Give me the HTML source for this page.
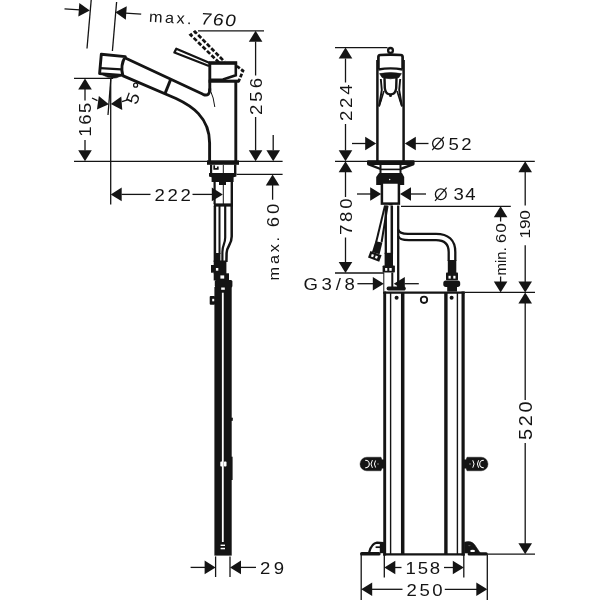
<!DOCTYPE html>
<html>
<head>
<meta charset="utf-8">
<title>Dimension drawing</title>
<style>
html,body{margin:0;padding:0;background:#ffffff;}
body{width:600px;height:600px;overflow:hidden;}
svg{display:block;transform:translateZ(0);will-change:transform;}
svg text{font-family:"Liberation Sans",sans-serif;fill:#141414;}
</style>
</head>
<body>
<svg width="600" height="600" viewBox="0 0 600 600">
<rect x="0" y="0" width="600" height="600" fill="#ffffff"/>
<line x1="91.2" y1="0" x2="87" y2="48.5" stroke="#141414" stroke-width="1.3" />
<line x1="116.6" y1="2" x2="112.4" y2="51" stroke="#141414" stroke-width="1.3" />
<line x1="64.5" y1="8.9" x2="80" y2="9.9" stroke="#141414" stroke-width="1.3" />
<polygon points="89.8,10.5 78.8,3.7 78.8,17.3" fill="#141414" transform="rotate(4 89.8 10.5)"/>
<polygon points="115.3,12.3 126.3,5.5 126.3,19.1" fill="#141414" transform="rotate(4 115.3 12.3)"/>
<line x1="125.5" y1="13.1" x2="141.2" y2="14.1" stroke="#141414" stroke-width="1.3" />
<text transform="translate(148.8 21.7) rotate(3.5) scale(1.06 1)" x="0" y="0" font-size="15.4" textLength="40.09" lengthAdjust="spacing" text-anchor="start">max.</text>
<text transform="translate(199.8 24.2) rotate(3.5) skewX(-8) scale(1.17 1)" x="0" y="0" font-size="16.6" textLength="30.09" lengthAdjust="spacing" text-anchor="start">760</text>
<line x1="74" y1="78.4" x2="113" y2="78.4" stroke="#141414" stroke-width="1.3" />
<line x1="74" y1="161.3" x2="282.6" y2="161.3" stroke="#141414" stroke-width="1.3" />
<line x1="236.5" y1="174.4" x2="282.6" y2="174.4" stroke="#141414" stroke-width="1.3" />
<line x1="110.7" y1="78.7" x2="110.7" y2="204.4" stroke="#141414" stroke-width="1.3" />
<line x1="110.8" y1="79" x2="108" y2="115" stroke="#141414" stroke-width="1.3" />
<polygon points="85,78.4 78.2,89.4 91.8,89.4" fill="#141414"/>
<line x1="85" y1="89" x2="85" y2="100.5" stroke="#141414" stroke-width="1.3" />
<text transform="translate(91.2 136.8) rotate(-90) scale(1.12 1)" x="0" y="0" font-size="16.6" textLength="30.54" lengthAdjust="spacing" text-anchor="start">165</text>
<line x1="85" y1="140" x2="85" y2="150.5" stroke="#141414" stroke-width="1.3" />
<polygon points="85,161.3 78.2,150.3 91.8,150.3" fill="#141414"/>
<polygon points="108.8,104.2 97.8,97.4 97.8,111.0" fill="#141414" transform="rotate(8 108.8 104.2)"/>
<line x1="92" y1="98" x2="97.5" y2="100.6" stroke="#141414" stroke-width="1.3" />
<polygon points="110.8,104.0 121.8,97.2 121.8,110.8" fill="#141414" transform="rotate(-4 110.8 104.0)"/>
<line x1="122" y1="101.6" x2="127.4" y2="99.8" stroke="#141414" stroke-width="1.3" />
<text transform="translate(136.4 105.4) rotate(-69) scale(1.12 1)" x="0" y="0" font-size="17.4" text-anchor="start">5</text>
<circle cx="135.6" cy="85.2" r="2.0" fill="none" stroke="#141414" stroke-width="1.25"/>
<line x1="198" y1="30.8" x2="264" y2="30.8" stroke="#141414" stroke-width="1.3" />
<polygon points="255.6,30.8 248.8,41.8 262.4,41.8" fill="#141414"/>
<line x1="255.6" y1="41.5" x2="255.6" y2="75.5" stroke="#141414" stroke-width="1.3" />
<text transform="translate(262 115) rotate(-90) scale(1.12 1)" x="0" y="0" font-size="16.6" textLength="33.04" lengthAdjust="spacing" text-anchor="start">256</text>
<line x1="255.6" y1="117" x2="255.6" y2="150.5" stroke="#141414" stroke-width="1.3" />
<polygon points="255.6,161.3 248.8,150.3 262.4,150.3" fill="#141414"/>
<line x1="273.2" y1="135" x2="273.2" y2="150.5" stroke="#141414" stroke-width="1.3" />
<polygon points="273.2,161.3 266.4,150.3 280.0,150.3" fill="#141414"/>
<polygon points="272.6,174.4 265.8,185.4 279.4,185.4" fill="#141414"/>
<line x1="272.6" y1="185" x2="272.6" y2="199.7" stroke="#141414" stroke-width="1.3" />
<text transform="translate(278.8 280.4) rotate(-90) scale(1.06 1)" x="0" y="0" font-size="15.4" textLength="41.04" lengthAdjust="spacing" text-anchor="start">max.</text>
<text transform="translate(278.6 227.2) rotate(-90) scale(1.12 1)" x="0" y="0" font-size="16.6" textLength="20.98" lengthAdjust="spacing" text-anchor="start">60</text>
<polygon points="110.7,194.4 121.7,187.6 121.7,201.2" fill="#141414"/>
<line x1="121.5" y1="194.4" x2="150.5" y2="194.4" stroke="#141414" stroke-width="1.3" />
<text transform="translate(154.4 200.5) rotate(0) scale(1.12 1)" x="0" y="0" font-size="16.6" textLength="32.59" lengthAdjust="spacing" text-anchor="start">222</text>
<line x1="192.5" y1="194.4" x2="212" y2="194.4" stroke="#141414" stroke-width="1.3" />
<polygon points="222.8,194.4 211.8,187.6 211.8,201.2" fill="#141414"/>
<line x1="215.6" y1="556.4" x2="215.6" y2="577" stroke="#141414" stroke-width="1.3" />
<line x1="230" y1="556.4" x2="230" y2="577" stroke="#141414" stroke-width="1.3" />
<line x1="190.6" y1="567.4" x2="205" y2="567.4" stroke="#141414" stroke-width="1.3" />
<polygon points="215.6,567.4 204.6,560.6 204.6,574.2" fill="#141414"/>
<polygon points="230,567.4 241.0,560.6 241.0,574.2" fill="#141414"/>
<line x1="240.5" y1="567.4" x2="256" y2="567.4" stroke="#141414" stroke-width="1.3" />
<text transform="translate(260 573.7) rotate(0) scale(1.12 1)" x="0" y="0" font-size="16.6" textLength="21.43" lengthAdjust="spacing" text-anchor="start">29</text>
<path d="M101.3,54.3 L125.3,56.6 Q120.0,65.5 122.8,75.4 L99.6,73.6 Z" stroke="#141414" stroke-width="2.9" fill="none" stroke-linejoin="round"/>
<line x1="100.2" y1="68.2" x2="121.3" y2="69.4" stroke="#141414" stroke-width="2.3" />
<path d="M102.5,74.8 L120.6,76.2 Q112,81.0 102.5,74.8 Z" stroke="#141414" stroke-width="0.5" fill="#141414" />
<path d="M125.3,58.0 L203.0,94.3 Q209.8,97.2 209.8,88.5" stroke="#141414" stroke-width="2.9" fill="none" />
<path d="M122.6,75.6 L176,98.5 C191,105.5 209.6,117 209.6,143 L209.6,161" stroke="#141414" stroke-width="2.9" fill="none" />
<line x1="170.6" y1="79.6" x2="165.0" y2="93.6" stroke="#141414" stroke-width="2.9" />
<path d="M210.4,63.3 L176.3,48.8 L174.4,52.5 L209,66.0" stroke="#141414" stroke-width="2.3" fill="none" stroke-linejoin="round"/>
<path d="M219.0,62.5 L190.6,34.9 L195.0,31.7 L224.4,61.6" stroke="#141414" stroke-width="2.7" fill="none" stroke-dasharray="4.3 1.9"/>
<path d="M208.9,63.0 L237.2,63.0" stroke="#141414" stroke-width="3.6" fill="none" />
<path d="M235.8,62.5 L235.8,75.3 L223,79.5 L210.4,79.8" stroke="#141414" stroke-width="2.6" fill="none" />
<line x1="209.8" y1="62.5" x2="209.8" y2="91" stroke="#141414" stroke-width="2.9" />
<path d="M208.6,81.2 L239,81.2" stroke="#141414" stroke-width="3.1" fill="none" />
<path d="M236.8,66 L243,70.8 L238.4,82" stroke="#141414" stroke-width="2.7" fill="none" stroke-dasharray="3.8 1.7"/>
<line x1="235.8" y1="81" x2="235.8" y2="161" stroke="#141414" stroke-width="2.9" />
<path d="M210.6,91 Q213.6,97 214.8,107" stroke="#141414" stroke-width="1.0" fill="none" />
<rect x="207" y="160.4" width="32" height="4.4" rx="0" fill="#141414" stroke="none" stroke-width="0"/>
<rect x="210" y="164.5" width="2.2" height="9.0" rx="0" fill="#141414" stroke="none" stroke-width="0"/>
<rect x="234" y="164.5" width="2.4" height="9.0" rx="0" fill="#141414" stroke="none" stroke-width="0"/>
<line x1="223.3" y1="165" x2="223.3" y2="204" stroke="#141414" stroke-width="1.0" />
<path d="M214.2,165.2 L214.2,168.8 L217.8,168.8 L217.8,166.4" stroke="#141414" stroke-width="1.7" fill="none" />
<polygon points="209,173 236.4,173 236.4,176.6 233.6,177.2 233.6,182 226,182 226,185 219,185 219,182 211.6,182 211.6,177.2 209,176.6" fill="#141414" stroke="none" stroke-width="0"/>
<rect x="213.5" y="181" width="2.2" height="23" rx="0" fill="#141414" stroke="none" stroke-width="0"/>
<rect x="230.6" y="181" width="2.4" height="23" rx="0" fill="#141414" stroke="none" stroke-width="0"/>
<rect x="213.8" y="203.4" width="19.2" height="3.2" rx="0" fill="#141414" stroke="none" stroke-width="0"/>
<line x1="214.9" y1="206" x2="214.9" y2="262" stroke="#141414" stroke-width="2.5" />
<line x1="219.5" y1="206" x2="219.5" y2="254" stroke="#141414" stroke-width="2.0" />
<path d="M225.2,206 L225.2,237.5 C225.2,244 222.4,245 222.4,252 L222.4,262" stroke="#141414" stroke-width="2.2" fill="none" />
<path d="M231.7,206 L231.7,236.5 C231.7,245 226.8,246 226.6,253 L226.4,262" stroke="#141414" stroke-width="2.5" fill="none" />
<rect x="214.4" y="253" width="6.0" height="9" rx="0" fill="#141414" stroke="none" stroke-width="0"/>
<rect x="213.7" y="260.5" width="12.7" height="13.5" rx="0" fill="#141414" stroke="none" stroke-width="0"/>
<rect x="211" y="265" width="4" height="7.7" rx="0" fill="#141414" stroke="none" stroke-width="0"/>
<rect x="215.9" y="268" width="2.4" height="2.7" rx="0" fill="#fff" stroke="none" stroke-width="0"/>
<rect x="213.7" y="273.3" width="15.3" height="7.2" rx="0" fill="#141414" stroke="none" stroke-width="0"/>
<rect x="220.4" y="275.4" width="3.8" height="3.2" rx="0" fill="#fff" stroke="none" stroke-width="0"/>
<rect x="214.8" y="280" width="17.6" height="7.5" rx="1.5" fill="#141414" stroke="none" stroke-width="0"/>
<rect x="214.4" y="287" width="17.3" height="268.6" rx="0" fill="#141414" stroke="none" stroke-width="0"/>
<rect x="221.2" y="287.5" width="3.6" height="2.3" rx="0" fill="#fff" stroke="none" stroke-width="0"/>
<rect x="209.7" y="296" width="5.3" height="8.7" rx="1" fill="#141414" stroke="none" stroke-width="0"/>
<rect x="212.2" y="298.8" width="2.0" height="2.5" rx="0" fill="#fff" stroke="none" stroke-width="0"/>
<rect x="221.9" y="292.7" width="1.8" height="249.3" rx="0" fill="#fff" stroke="none" stroke-width="0"/>
<rect x="231" y="417.5" width="1.8" height="3.5" rx="0.8" fill="#141414" stroke="none" stroke-width="0"/>
<rect x="231" y="456.7" width="1.6" height="23.3" rx="0" fill="#141414" stroke="none" stroke-width="0"/>
<rect x="220.3" y="461.6" width="2.2" height="5.0" rx="0.8" fill="#fff" stroke="none" stroke-width="0"/>
<rect x="223.9" y="461.6" width="2.6" height="5.0" rx="0.8" fill="#fff" stroke="none" stroke-width="0"/>
<rect x="220.6" y="544.6" width="4.4" height="1.4" rx="0" fill="#fff" stroke="none" stroke-width="0"/>
<rect x="220.6" y="547.8" width="4.4" height="1.5" rx="0" fill="#fff" stroke="none" stroke-width="0"/>
<line x1="335" y1="47.6" x2="387.5" y2="47.6" stroke="#141414" stroke-width="1.3" />
<line x1="335" y1="161.3" x2="534.8" y2="161.3" stroke="#141414" stroke-width="1.3" />
<line x1="335" y1="273" x2="383.8" y2="273" stroke="#141414" stroke-width="1.3" />
<line x1="401" y1="206.3" x2="510.8" y2="206.3" stroke="#141414" stroke-width="1.3" />
<line x1="465" y1="292.4" x2="535" y2="292.4" stroke="#141414" stroke-width="1.3" />
<line x1="487" y1="554.2" x2="535" y2="554.2" stroke="#141414" stroke-width="1.3" />
<polygon points="345.5,47.6 338.7,58.6 352.3,58.6" fill="#141414"/>
<line x1="345.5" y1="58.5" x2="345.5" y2="82.5" stroke="#141414" stroke-width="1.3" />
<text transform="translate(351.5 121) rotate(-90) scale(1.12 1)" x="0" y="0" font-size="16.6" textLength="32.59" lengthAdjust="spacing" text-anchor="start">224</text>
<line x1="345.5" y1="124" x2="345.5" y2="150.5" stroke="#141414" stroke-width="1.3" />
<polygon points="345.5,161.3 338.7,150.3 352.3,150.3" fill="#141414"/>
<polygon points="345.5,161.3 338.7,172.3 352.3,172.3" fill="#141414"/>
<line x1="345.5" y1="172" x2="345.5" y2="197" stroke="#141414" stroke-width="1.3" />
<text transform="translate(352 235) rotate(-90) scale(1.12 1)" x="0" y="0" font-size="16.6" textLength="32.59" lengthAdjust="spacing" text-anchor="start">780</text>
<line x1="345.5" y1="237.5" x2="345.5" y2="262.5" stroke="#141414" stroke-width="1.3" />
<polygon points="345.5,273 338.7,262.0 352.3,262.0" fill="#141414"/>
<line x1="352" y1="143.5" x2="366.5" y2="143.5" stroke="#141414" stroke-width="1.3" />
<polygon points="376.2,143.5 365.2,136.7 365.2,150.3" fill="#141414"/>
<polygon points="404.8,143.5 415.8,136.7 415.8,150.3" fill="#141414"/>
<line x1="415" y1="143.5" x2="428.5" y2="143.5" stroke="#141414" stroke-width="1.3" />
<circle cx="438" cy="143.6" r="5.4" fill="none" stroke="#141414" stroke-width="1.3"/>
<line x1="432.2" y1="150.2" x2="443.8" y2="137.0" stroke="#141414" stroke-width="1.2" />
<text transform="translate(448.6 149.8) rotate(0) scale(1.12 1)" x="0" y="0" font-size="16.6" textLength="20.54" lengthAdjust="spacing" text-anchor="start">52</text>
<line x1="357" y1="194" x2="371.5" y2="194" stroke="#141414" stroke-width="1.3" />
<polygon points="381.2,194 370.2,187.2 370.2,200.8" fill="#141414"/>
<polygon points="400,194 411.0,187.2 411.0,200.8" fill="#141414"/>
<line x1="410" y1="194" x2="426" y2="194" stroke="#141414" stroke-width="1.3" />
<circle cx="440.8" cy="194.3" r="5.4" fill="none" stroke="#141414" stroke-width="1.3"/>
<line x1="435" y1="200.9" x2="446.6" y2="187.7" stroke="#141414" stroke-width="1.2" />
<text transform="translate(453.6 200.4) rotate(0) scale(1.12 1)" x="0" y="0" font-size="16.6" textLength="19.64" lengthAdjust="spacing" text-anchor="start">34</text>
<polygon points="500.6,206.3 493.8,217.3 507.4,217.3" fill="#141414"/>
<line x1="500.6" y1="217" x2="500.6" y2="221.5" stroke="#141414" stroke-width="1.3" />
<text transform="translate(506.0 243.2) rotate(-90) scale(1.12 1)" x="0" y="0" font-size="15.4" textLength="17.86" lengthAdjust="spacing" text-anchor="start">60</text>
<text transform="translate(506.0 275.4) rotate(-90) scale(0.97 1)" x="0" y="0" font-size="15.4" text-anchor="start">min.</text>
<line x1="500.6" y1="276.5" x2="500.6" y2="282" stroke="#141414" stroke-width="1.3" />
<polygon points="500.6,292.4 493.8,281.4 507.4,281.4" fill="#141414"/>
<polygon points="525.2,161.3 518.4,172.3 532.0,172.3" fill="#141414"/>
<line x1="525.2" y1="172" x2="525.2" y2="205.5" stroke="#141414" stroke-width="1.3" />
<text transform="translate(530.4 238.4) rotate(-90) scale(1.12 1)" x="0" y="0" font-size="15.4" textLength="25.18" lengthAdjust="spacing" text-anchor="start">190</text>
<line x1="525.2" y1="245.3" x2="525.2" y2="282" stroke="#141414" stroke-width="1.3" />
<polygon points="525.2,292.4 518.4,281.4 532.0,281.4" fill="#141414"/>
<polygon points="525.2,292.4 518.4,303.4 532.0,303.4" fill="#141414"/>
<line x1="525.2" y1="303" x2="525.2" y2="400" stroke="#141414" stroke-width="1.3" />
<text transform="translate(532 440) rotate(-90) scale(1.12 1)" x="0" y="0" font-size="17.8" textLength="34.38" lengthAdjust="spacing" text-anchor="start">520</text>
<line x1="525.2" y1="443" x2="525.2" y2="544" stroke="#141414" stroke-width="1.3" />
<polygon points="525.2,554.2 518.4,543.2 532.0,543.2" fill="#141414"/>
<text transform="translate(303.4 290) rotate(0) scale(1.12 1)" x="0" y="0" font-size="16.6" textLength="45.98" lengthAdjust="spacing" text-anchor="start">G3/8</text>
<line x1="357.4" y1="283.7" x2="373.5" y2="283.7" stroke="#141414" stroke-width="1.3" />
<polygon points="383.8,283.7 372.8,276.9 372.8,290.5" fill="#141414"/>
<polygon points="393.8,283.7 404.8,276.9 404.8,290.5" fill="#141414"/>
<line x1="404.5" y1="283.7" x2="418.8" y2="283.7" stroke="#141414" stroke-width="1.3" />
<line x1="384.3" y1="555" x2="384.3" y2="577.5" stroke="#141414" stroke-width="1.3" />
<line x1="463.8" y1="555" x2="463.8" y2="577.5" stroke="#141414" stroke-width="1.3" />
<polygon points="384.3,567.5 395.3,560.7 395.3,574.3" fill="#141414"/>
<line x1="395" y1="567.5" x2="401.5" y2="567.5" stroke="#141414" stroke-width="1.3" />
<text transform="translate(405.6 574) rotate(0) scale(1.12 1)" x="0" y="0" font-size="16.6" textLength="30.8" lengthAdjust="spacing" text-anchor="start">158</text>
<line x1="444" y1="567.5" x2="453.5" y2="567.5" stroke="#141414" stroke-width="1.3" />
<polygon points="463.8,567.5 452.8,560.7 452.8,574.3" fill="#141414"/>
<line x1="361.2" y1="555" x2="361.2" y2="600" stroke="#141414" stroke-width="1.3" />
<line x1="487.3" y1="555" x2="487.3" y2="600" stroke="#141414" stroke-width="1.3" />
<polygon points="361.2,589.3 372.2,582.5 372.2,596.1" fill="#141414"/>
<line x1="372" y1="589.3" x2="402.5" y2="589.3" stroke="#141414" stroke-width="1.3" />
<text transform="translate(406.6 595.8) rotate(0) scale(1.12 1)" x="0" y="0" font-size="16.6" textLength="32.14" lengthAdjust="spacing" text-anchor="start">250</text>
<line x1="444.8" y1="589.3" x2="477" y2="589.3" stroke="#141414" stroke-width="1.3" />
<polygon points="487.3,589.3 476.3,582.5 476.3,596.1" fill="#141414"/>
<circle cx="390.5" cy="50.4" r="2.4" fill="#fff" stroke="#141414" stroke-width="2.3"/>
<path d="M378.4,69 L378.4,57 Q378.4,55.2 380.2,55.0 Q390.5,54.2 400.8,55.0 Q402.6,55.2 402.6,57 L402.6,69" stroke="#141414" stroke-width="2.7" fill="none" />
<path d="M378.3,69.5 Q390.5,67.2 402.7,69.5" stroke="#141414" stroke-width="2.4" fill="none" />
<path d="M379.6,73.6 Q390.5,71.6 401.4,73.6 L399,77.4 Q390.5,80.2 382,77.4 Z" stroke="#141414" stroke-width="0.6" fill="#141414" />
<line x1="377.4" y1="60" x2="377.4" y2="161" stroke="#141414" stroke-width="2.5" />
<line x1="403.6" y1="60" x2="403.6" y2="161" stroke="#141414" stroke-width="2.5" />
<path d="M384.5,77.5 L384.8,88 Q385.4,94.4 390.5,94.4 Q395.6,94.4 396.2,88 L396.5,77.5" stroke="#141414" stroke-width="2.4" fill="none" />
<circle cx="390.5" cy="95.6" r="1.5" fill="#141414" stroke="none" stroke-width="0"/>
<path d="M380.8,79 L381.8,90 L379.0,106.5" stroke="#141414" stroke-width="1.9" fill="none" />
<path d="M384.0,91 L379.4,105.5" stroke="#141414" stroke-width="1.6" fill="none" />
<polygon points="380.6,100 381.8,100 379.2,106.5 378.8,106.5" fill="#141414" stroke="none" stroke-width="0"/>
<path d="M400.2,79 L399.2,90 L402.0,106.5" stroke="#141414" stroke-width="1.9" fill="none" />
<path d="M397.0,91 L401.6,105.5" stroke="#141414" stroke-width="1.6" fill="none" />
<polygon points="400.4,100 399.2,100 401.8,106.5 402.2,106.5" fill="#141414" stroke="none" stroke-width="0"/>
<rect x="379.2" y="76.6" width="1.8" height="2.0" rx="0" fill="#fff" stroke="none" stroke-width="0"/>
<rect x="400" y="76.6" width="1.8" height="2.0" rx="0" fill="#fff" stroke="none" stroke-width="0"/>
<rect x="367" y="160.3" width="47.6" height="4.7" rx="1" fill="#141414" stroke="none" stroke-width="0"/>
<line x1="368" y1="164.2" x2="380.5" y2="169" stroke="#141414" stroke-width="2.4" />
<line x1="413.6" y1="164.2" x2="400.5" y2="169" stroke="#141414" stroke-width="2.4" />
<line x1="380" y1="169.4" x2="401" y2="169.4" stroke="#141414" stroke-width="1.6" />
<line x1="380.5" y1="164.5" x2="380.5" y2="173.5" stroke="#141414" stroke-width="2.0" />
<line x1="400.5" y1="164.5" x2="400.5" y2="173.5" stroke="#141414" stroke-width="2.0" />
<polygon points="379,173 402,173 404.2,177 404.2,185 398.8,185 398.8,182.5 382,182.5 382,185 376.2,185 376.2,177" fill="#141414" stroke="none" stroke-width="0"/>
<circle cx="389.7" cy="179.5" r="0.7" fill="#fff" stroke="none" stroke-width="0"/>
<rect x="381.9" y="182.5" width="17.0" height="21.1" rx="0" fill="#fff" stroke="#141414" stroke-width="2.5"/>
<rect x="388.4" y="203" width="4.2" height="2.2" rx="1" fill="#141414" stroke="none" stroke-width="0"/>
<line x1="385" y1="205.5" x2="376.2" y2="242" stroke="#141414" stroke-width="2.0" />
<line x1="387.6" y1="205.5" x2="381.6" y2="242" stroke="#141414" stroke-width="2.0" />
<polygon points="375.4,241.2 382.4,242.4 379.6,254.2 372,252" fill="#141414" stroke="none" stroke-width="0"/>
<polygon points="370.4,251 381.6,255.2 379.2,261.8 368,257.6" fill="#141414" stroke="none" stroke-width="0"/>
<g transform="rotate(20.5 374.7 256.4)"><rect x="371.2" y="255.2" width="2.3" height="2.6" fill="#fff"/><rect x="375.4" y="255.2" width="2.3" height="2.6" fill="#fff"/></g>
<line x1="385.8" y1="205.5" x2="385.8" y2="254" stroke="#141414" stroke-width="2.3" />
<line x1="391.8" y1="205.5" x2="391.8" y2="254" stroke="#141414" stroke-width="2.5" />
<rect x="384.6" y="252.8" width="8.4" height="13.4" rx="0" fill="#141414" stroke="none" stroke-width="0"/>
<rect x="382.6" y="265.4" width="12.3" height="7.2" rx="0.8" fill="#141414" stroke="none" stroke-width="0"/>
<rect x="385.1" y="268" width="2.2" height="2.8" rx="0" fill="#fff" stroke="none" stroke-width="0"/>
<rect x="389.3" y="268" width="2.4" height="2.8" rx="0" fill="#fff" stroke="none" stroke-width="0"/>
<line x1="383.8" y1="272.7" x2="383.8" y2="291.5" stroke="#141414" stroke-width="1.0" />
<line x1="392.3" y1="272.5" x2="392.3" y2="287" stroke="#141414" stroke-width="2.0" />
<line x1="398.2" y1="205.5" x2="398.2" y2="287.5" stroke="#141414" stroke-width="2.3" />
<path d="M398.2,229.5 C398.8,232.4 402,233.8 408,233.8 L436,233.8 C448,233.8 455.3,240 455.3,252 L455.3,261" stroke="#141414" stroke-width="2.3" fill="none" />
<path d="M398.2,236 C398.9,239 403,240.1 409,240.1 L436,240.1 C444,240.1 448.7,244 448.7,252 L448.7,261" stroke="#141414" stroke-width="2.3" fill="none" />
<rect x="447.8" y="260" width="8.5" height="13" rx="0" fill="#141414" stroke="none" stroke-width="0"/>
<rect x="446" y="272.5" width="12" height="7.7" rx="0.8" fill="#141414" stroke="none" stroke-width="0"/>
<rect x="448.5" y="275.8" width="2.2" height="2.8" rx="0" fill="#fff" stroke="none" stroke-width="0"/>
<rect x="453.3" y="275.8" width="2.2" height="2.8" rx="0" fill="#fff" stroke="none" stroke-width="0"/>
<rect x="443.3" y="280.4" width="16.9" height="6.5" rx="2.6" fill="#141414" stroke="none" stroke-width="0"/>
<rect x="447.2" y="286.5" width="9.8" height="5.1" rx="0" fill="#141414" stroke="none" stroke-width="0"/>
<rect x="386.6" y="286.6" width="19.2" height="3.8" rx="1.9" fill="#141414" stroke="none" stroke-width="0"/>
<line x1="383.2" y1="292.6" x2="464.8" y2="292.6" stroke="#141414" stroke-width="2.3" />
<line x1="383.2" y1="554.4" x2="464.8" y2="554.4" stroke="#141414" stroke-width="2.4" />
<line x1="384.7" y1="291.5" x2="384.7" y2="555.5" stroke="#141414" stroke-width="2.9" />
<line x1="390.6" y1="292.5" x2="390.6" y2="554.5" stroke="#141414" stroke-width="1.4" />
<line x1="402.7" y1="292.5" x2="402.7" y2="554.5" stroke="#141414" stroke-width="3.5" />
<line x1="445.9" y1="292.5" x2="445.9" y2="554.5" stroke="#141414" stroke-width="3.4" />
<line x1="457.4" y1="292.5" x2="457.4" y2="554.5" stroke="#141414" stroke-width="1.4" />
<line x1="463.1" y1="291.5" x2="463.1" y2="555.5" stroke="#141414" stroke-width="3.2" />
<circle cx="396.6" cy="297.8" r="2.0" fill="#141414" stroke="none" stroke-width="0"/>
<circle cx="451.6" cy="297.8" r="2.0" fill="#141414" stroke="none" stroke-width="0"/>
<circle cx="424" cy="299.8" r="3.2" fill="none" stroke="#141414" stroke-width="1.8"/>
<path d="M384,459.8 L382,459.8 L381,457.2 L366.8,457.2 A6.8,6.8 0 0 0 366.8,470.8 L381,470.8 L382,468.2 L384,468.2 Z" stroke="#141414" stroke-width="0.4" fill="#141414" />
<path d="M365.6,460.3 A3.7,3.7 0 0 1 365.6,467.7" stroke="#fff" stroke-width="1.1" fill="none" stroke-linecap="round"/>
<path d="M372.2,460.4 Q369.6,464 372.2,467.6" stroke="#fff" stroke-width="1.0" fill="none" stroke-linecap="round"/>
<path d="M375.4,460.8 Q373.2,464 375.4,467.2" stroke="#fff" stroke-width="1.0" fill="none" stroke-linecap="round"/>
<circle cx="378" cy="464" r="0.9" fill="#666" stroke="none" stroke-width="0"/>
<path d="M464,459.8 L466,459.8 L467,457.2 L481.2,457.2 A6.8,6.8 0 0 1 481.2,470.8 L467,470.8 L466,468.2 L464,468.2 Z" stroke="#141414" stroke-width="0.4" fill="#141414" />
<path d="M483.4,460.3 A3.7,3.7 0 0 0 483.4,467.7" stroke="#fff" stroke-width="1.1" fill="none" stroke-linecap="round"/>
<path d="M478.4,460.6 Q476.2,464 478.4,467.4" stroke="#fff" stroke-width="1.0" fill="none" stroke-linecap="round"/>
<path d="M473.0,460.6 Q475.4,464 473.0,467.4" stroke="#fff" stroke-width="1.0" fill="none" stroke-linecap="round"/>
<circle cx="470" cy="464" r="0.9" fill="#666" stroke="none" stroke-width="0"/>
<rect x="360" y="552" width="20.6" height="3.6" rx="1.7" fill="#141414" stroke="none" stroke-width="0"/>
<path d="M369.2,552.2 C370.6,547 373,543 377,542.6 L383.6,543.2" stroke="#141414" stroke-width="2.2" fill="none" />
<rect x="379.8" y="542.4" width="4.6" height="10.8" rx="0" fill="#141414" stroke="none" stroke-width="0"/>
<line x1="375.6" y1="547.2" x2="382" y2="547.2" stroke="#141414" stroke-width="1.7" />
<rect x="467.6" y="552.2" width="20.2" height="3.4" rx="1.7" fill="#141414" stroke="none" stroke-width="0"/>
<path d="M464.4,542.2 Q471.5,540.2 474.8,545 L480.2,553 L464.4,553 Z" stroke="#141414" stroke-width="0.6" fill="#141414" />
<ellipse cx="472.6" cy="550.9" rx="2.4" ry="1.2" fill="#fff"/>
<ellipse cx="469.4" cy="545.6" rx="1.3" ry="0.7" fill="#555"/>
</svg>
</body>
</html>
